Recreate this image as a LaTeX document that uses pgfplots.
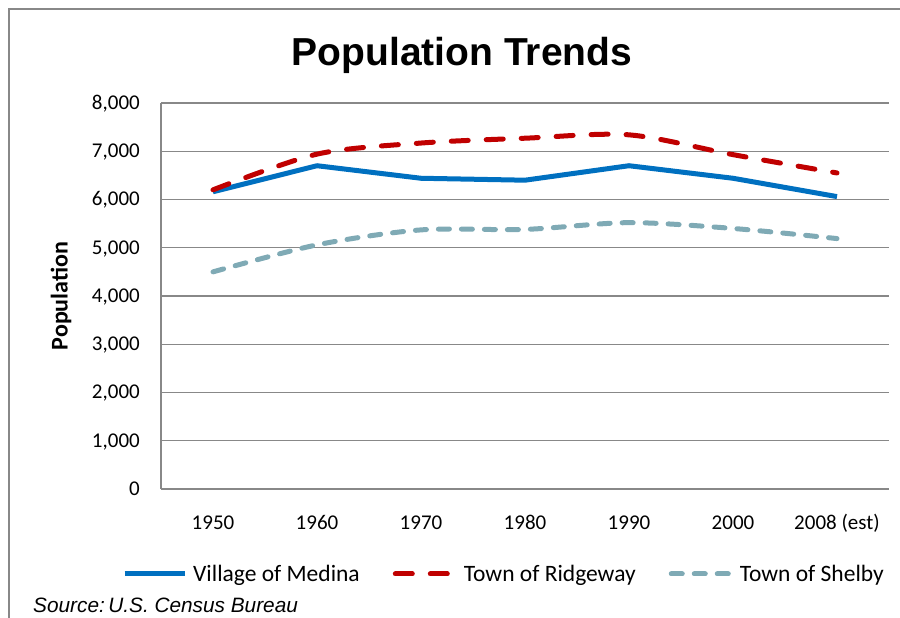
\documentclass[border=0pt]{standalone}
\usepackage{pgfplots}
\pgfplotsset{compat=1.18}
\usepackage{fontspec}
\setmainfont{Carlito}
\newfontfamily\arial{Liberation Sans}
\definecolor{medina}{HTML}{0070C0}
\definecolor{ridge}{HTML}{C00000}
\definecolor{shelby}{HTML}{7FAAB5}
\definecolor{gridgray}{HTML}{888888}
\begin{document}
\begin{tikzpicture}[x=1pt,y=1pt]
\useasboundingbox (0,0) rectangle (900,618);
\draw[line width=2pt, color=gridgray] (9,0) -- (9,609) -- (900,609);
\node[anchor=base, inner sep=0pt, font=\arial\bfseries\fontsize{39}{41}\selectfont] at (462,552) {Population Trends};
\node[anchor=base west, inner sep=0pt, font=\arial\itshape\fontsize{20.8}{22}\selectfont] at (33,5) {Source:\,U.S. Census Bureau};
\begin{axis}[
  at={(161pt,129pt)}, anchor=south west,
  scale only axis, width=728pt, height=386pt,
  xmin=-0.5, xmax=6.5, ymin=0, ymax=8000,
  xtick={0,1,2,3,4,5,6},
  xticklabels={1950,1960,1970,1980,1990,2000,2008 (est)},
  ytick={0,1000,2000,3000,4000,5000,6000,7000,8000},
  axis x line*=bottom, axis y line*=left,
  axis line style={draw=gridgray, line width=1.3pt, -},
  ymajorgrids, grid style={draw=gridgray, line width=1.3pt},
  major tick length=0pt,
  tick style={draw=none},
  /pgf/number format/assume math mode=true,
  /pgf/number format/1000 sep={,},
  scaled y ticks=false,
  ticklabel style={font=\fontsize{21}{23}\selectfont},
  yticklabel style={anchor=east, inner sep=0pt, text height=13pt, text depth=0pt, xshift=-21pt},
  xticklabel style={anchor=north, inner sep=0pt, text height=14pt, text depth=4pt, yshift=-26pt},
  ylabel={Population},
  ylabel style={at={(axis description cs:-0.1374,0.5)}, anchor=center, font=\bfseries\fontsize{24}{26}\selectfont},
  legend columns=3,
  legend image code/.code={\draw[#1] (0pt,0pt) -- (60pt,0pt);},
  legend style={draw=none, fill=none, inner sep=0pt, at={(axis description cs:-0.0536,-0.2202)}, anchor=west,
    font=\fontsize{23.5}{25}\selectfont,
    nodes={inner sep=0pt},
    /tikz/every odd column/.append style={column sep=6pt},
    /tikz/every even column/.append style={column sep=33pt}},
  clip=false,
]
\addplot[medina, line width=5pt, line join=round] coordinates {
(0,6160) (1,6700) (2,6440) (3,6400) (4,6700) (5,6440) (6,6060)};
\addlegendentry{Village of Medina}
\addplot[ridge, line width=5pt, smooth, line cap=round, dash pattern=on 17pt off 18pt] coordinates {
(0,6200) (1,6940) (2,7170) (3,7270) (4,7340) (5,6930) (6,6550)};
\addlegendentry{Town of Ridgeway}
\addplot[shelby, line width=5pt, smooth, line cap=round, dash pattern=on 11pt off 12pt] coordinates {
(0,4500) (1,5060) (2,5370) (3,5380) (4,5520) (5,5400) (6,5190)};
\addlegendentry{Town of Shelby}
\end{axis}
\end{tikzpicture}
\end{document}
